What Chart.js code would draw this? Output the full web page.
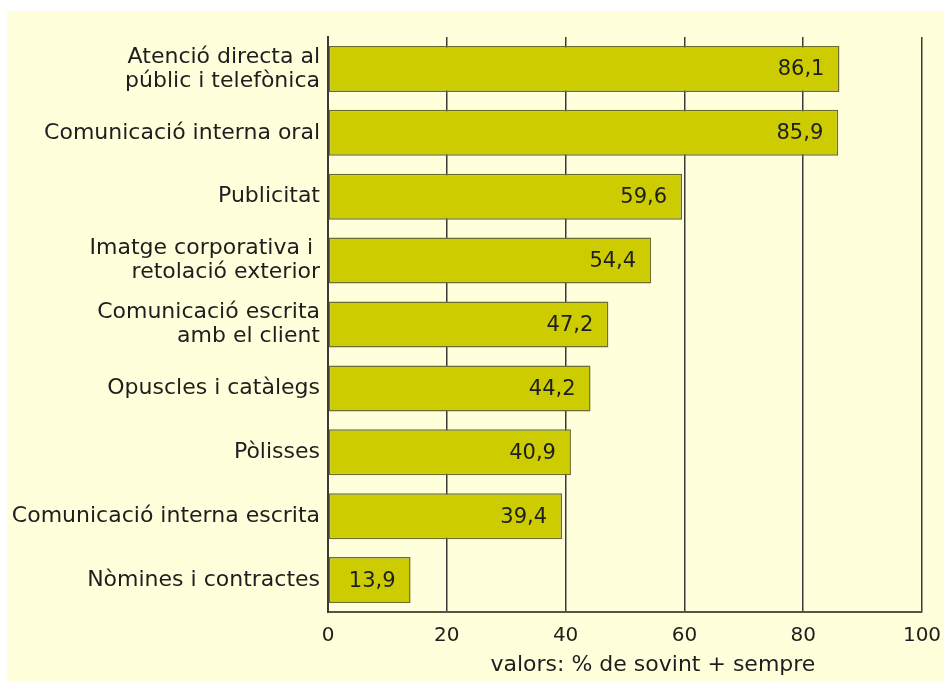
<!DOCTYPE html>
<html>
<head>
<meta charset="utf-8">
<script src="https://cdn.jsdelivr.net/npm/chart.js@4/dist/chart.umd.min.js"></script>
<style>
  html, body { margin: 0; padding: 0; background: #fff; }
  #panel {
    position: absolute; left: 7px; top: 11px;
    width: 937px; height: 671px;
    background: #ffffdc;
  }
  #chart { display: block; }
</style>
</head>
<body>
<div id="panel"><canvas id="chart" width="937" height="671"></canvas></div>
<script>
// Categories, top to bottom
var categories = [
    ['Atenció directa al', 'públic i telefònica'],
    'Comunicació interna oral',
    'Publicitat',
    ['Imatge corporativa i ', 'retolació exterior'],
    ['Comunicació escrita', 'amb el client'],
    'Opuscles i catàlegs',
    'Pòlisses',
    'Comunicació interna escrita',
    'Nòmines i contractes'
];
var values = [86.1, 85.9, 59.6, 54.4, 47.2, 44.2, 40.9, 39.4, 13.9];
var xTicks = [0, 20, 40, 60, 80, 100];
var axisTitle = 'valors: % de sovint + sempre';

var FONT = '"DejaVu Sans", Verdana, sans-serif';
var INK = '#1e1e1e';

// writes the value inside the right end of every bar
var valueLabels = {
    id: 'valueLabels',
    afterDatasetsDraw: function(chart) {
        var ctx = chart.ctx;
        var meta = chart.getDatasetMeta(0);
        ctx.save();
        ctx.font = '21px ' + FONT;
        ctx.fillStyle = INK;
        ctx.textAlign = 'right';
        ctx.textBaseline = 'middle';
        meta.data.forEach(function(bar, i) {
            var text = values[i].toFixed(1).replace('.', ',');
            ctx.fillText(text, bar.x - 15, bar.y + 1);
        });
        ctx.restore();
    }
};

// axis caption sits a little right of centre under the scale
var axisCaption = {
    id: 'axisCaption',
    afterDraw: function(chart) {
        var ctx = chart.ctx;
        var area = chart.chartArea;
        ctx.save();
        ctx.font = '22px ' + FONT;
        ctx.fillStyle = INK;
        ctx.textAlign = 'center';
        ctx.textBaseline = 'middle';
        ctx.fillText(axisTitle, area.left + (area.right - area.left) * 0.547, area.bottom + 53);
        ctx.restore();
    }
};

new Chart(document.getElementById('chart'), {
    type: 'bar',
    data: {
        labels: categories,
        datasets: [{
            data: values,
            backgroundColor: '#cccc00',
            borderColor: '#6d6d30',
            borderWidth: 1.5,
            borderSkipped: false,
            barPercentage: 0.72,
            categoryPercentage: 1
        }]
    },
    options: {
        indexAxis: 'y',
        responsive: false,
        animation: false,
        layout: { padding: { top: 26, right: 0, bottom: 22, left: 0 } },
        plugins: {
            legend: { display: false },
            tooltip: { enabled: false }
        },
        scales: {
            x: {
                min: 0,
                max: 100,
                afterBuildTicks: function(scale) {
                    scale.ticks = xTicks.map(function(v) { return { value: v }; });
                },
                // the "100" label may hang a little past the plot edge
                afterFit: function(scale) { scale.paddingRight = 22; },
                grid: { color: '#3a3a3a', lineWidth: 1.5, drawTicks: false },
                border: { color: '#555544', width: 2 },
                ticks: {
                    padding: 12,
                    color: INK,
                    font: { family: FONT, size: 20 }
                }
            },
            y: {
                grid: { display: false, drawTicks: false },
                border: { color: '#3a3a3a', width: 2 },
                afterFit: function(scale) { scale.width = 321; },
                ticks: {
                    padding: 8,
                    color: INK,
                    font: { family: FONT, size: 22, lineHeight: 1.08 }
                }
            }
        }
    },
    plugins: [valueLabels, axisCaption]
});
</script>
</body>
</html>
